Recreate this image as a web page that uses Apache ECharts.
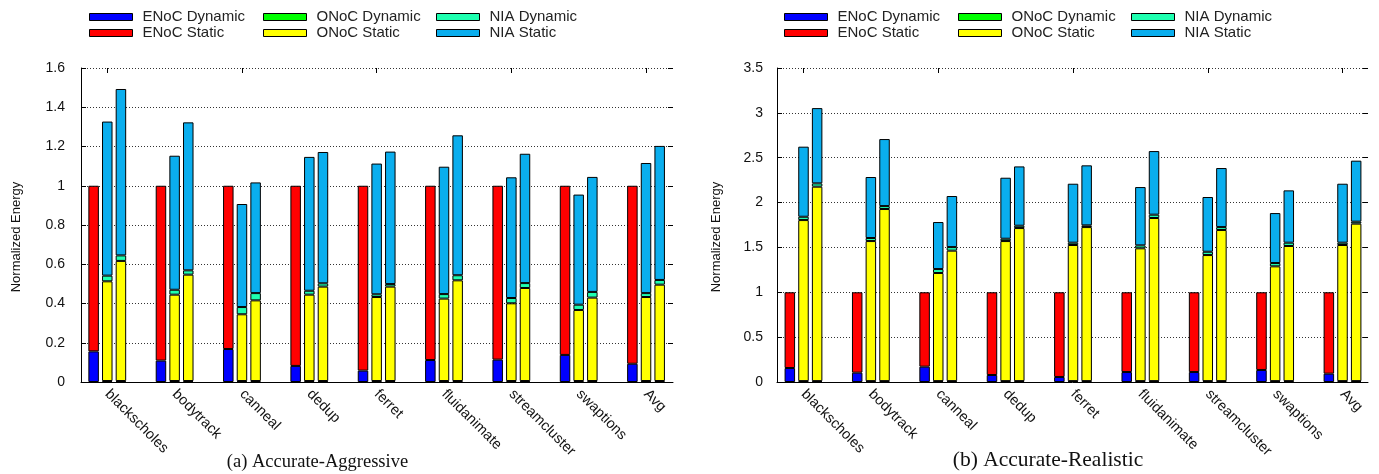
<!DOCTYPE html>
<html>
<head>
<meta charset="utf-8">
<script src="https://cdn.jsdelivr.net/npm/echarts@6/dist/echarts.min.js"></script>
<style>html,body{margin:0;padding:0;background:#fff;}#c{width:1379px;height:474px;}</style>
</head>
<body>
<div id="c"></div>
<script>
const categories = ['blackscholes','bodytrack','canneal','dedup','ferret','fluidanimate','streamcluster','swaptions','Avg'];
const seriesNames = ['ENoC Dynamic','ENoC Static','ONoC Dynamic','ONoC Static','NIA Dynamic','NIA Static'];
const yTicksA = [0, 1.6, 0.2];
const yTicksB = [0, 3.5, 0.5];

// (a) Accurate-Aggressive
const aggEnocDyn     = [0.156,0.109,0.168,0.082,0.058,0.112,0.114,0.138,0.093];
const aggEnocStatic  = [0.844,0.891,0.832,0.918,0.942,0.888,0.886,0.862,0.907];
const aggOnoc1Dyn    = [0.005,0.005,0.005,0.005,0.005,0.005,0.005,0.005,0.005];
const aggOnoc1Static = [0.508,0.440,0.340,0.440,0.428,0.420,0.396,0.362,0.428];
const aggNia1Dyn     = [0.029,0.025,0.037,0.020,0.014,0.023,0.027,0.027,0.020];
const aggNia1Static  = [0.785,0.683,0.525,0.682,0.666,0.649,0.615,0.561,0.663];
const aggOnoc2Dyn    = [0.005,0.005,0.005,0.005,0.005,0.005,0.005,0.005,0.005];
const aggOnoc2Static = [0.612,0.542,0.411,0.481,0.481,0.513,0.474,0.425,0.491];
const aggNia2Dyn     = [0.028,0.022,0.037,0.017,0.013,0.026,0.025,0.029,0.024];
const aggNia2Static  = [0.848,0.754,0.564,0.669,0.675,0.713,0.659,0.586,0.683];

// (b) Accurate-Realistic
const realEnocDyn     = [0.156,0.104,0.171,0.078,0.056,0.111,0.111,0.134,0.093];
const realEnocStatic  = [0.844,0.896,0.829,0.922,0.944,0.889,0.889,0.866,0.907];
const realOnoc1Dyn    = [0.010,0.010,0.010,0.010,0.010,0.010,0.010,0.010,0.010];
const realOnoc1Static = [1.795,1.561,1.205,1.561,1.517,1.480,1.405,1.279,1.517];
const realNia1Dyn     = [0.037,0.034,0.044,0.026,0.026,0.033,0.037,0.037,0.026];
const realNia1Static  = [0.781,0.680,0.524,0.680,0.657,0.650,0.610,0.557,0.657];
const realOnoc2Dyn    = [0.010,0.010,0.010,0.010,0.010,0.010,0.010,0.010,0.010];
const realOnoc2Static = [2.167,1.918,1.454,1.706,1.717,1.818,1.684,1.506,1.755];
const realNia2Dyn     = [0.037,0.033,0.040,0.026,0.019,0.037,0.033,0.037,0.022];
const realNia2Static  = [0.839,0.747,0.569,0.661,0.669,0.709,0.658,0.583,0.680];

const colors = {
  'ENoC Dynamic':'#0000ff','ENoC Static':'#ff0000',
  'ONoC Dynamic':'#00ff00','ONoC Static':'#ffff00',
  'NIA Dynamic':'#1effb0','NIA Static':'#0aaeee'
};
const SANS = 'Liberation Sans, Arial, sans-serif';
const SERIF = 'Liberation Serif, Times New Roman, serif';

function bar(name, data, stack, xi, yi) {
  return {
    type:'bar', name:name, data:data, stack:stack,
    xAxisIndex:xi, yAxisIndex:yi, barWidth:10.5, barGap:'30%',
    itemStyle:{color:colors[name], borderColor:'#000', borderWidth:1},
    emphasis:{disabled:true}, animation:false
  };
}

const panels = [
  {frameLeft:81, frameWidth:592, barLeft:73.6, barWidth:606.1, ticks:yTicksA, labelMargin:16, nameX:16,
   sets:[[aggEnocDyn,aggEnocStatic],[aggOnoc1Dyn,aggOnoc1Static,aggNia1Dyn,aggNia1Static],[aggOnoc2Dyn,aggOnoc2Static,aggNia2Dyn,aggNia2Static]],
   legendLefts:[89,263,436]},
  {frameLeft:777, frameWidth:591, barLeft:769.8, barWidth:606.4, ticks:yTicksB, labelMargin:14, nameX:716,
   sets:[[realEnocDyn,realEnocStatic],[realOnoc1Dyn,realOnoc1Static,realNia1Dyn,realNia1Static],[realOnoc2Dyn,realOnoc2Static,realNia2Dyn,realNia2Static]],
   legendLefts:[784,958,1131]}
];

const grid=[], xAxis=[], yAxis=[], series=[], legend=[], graphic=[];
const TOP=68, H=314;
const gridLine = {show:true, lineStyle:{color:'#333', type:[1,2], width:1}};
panels.forEach((p, pi) => {
  const g0 = grid.length;
  grid.push({left:p.frameLeft, top:TOP, width:p.frameWidth, height:H});
  grid.push({left:p.barLeft, top:TOP, width:p.barWidth, height:H});
  const x0 = xAxis.length;
  xAxis.push({type:'value', gridIndex:g0, min:0, max:1, position:'bottom',
    axisLine:{show:true, onZero:false, lineStyle:{color:'#000', width:1}},
    axisTick:{show:false}, axisLabel:{show:false}, splitLine:{show:false}});
  xAxis.push({type:'category', gridIndex:g0+1, data:categories, position:'bottom',
    axisLine:{show:false}, axisTick:{show:false},
    axisLabel:{interval:0, rotate:-45, margin:10, fontFamily:SANS, fontSize:14.5, color:'#111'}});
  xAxis.push({type:'category', gridIndex:g0+1, data:categories, position:'top',
    axisLine:{show:false}, axisTick:{show:true, inside:true, alignWithLabel:true, length:5, lineStyle:{color:'#000'}},
    axisLabel:{show:false}});
  const y0 = yAxis.length;
  const [mn, mx, iv] = p.ticks;
  yAxis.push({type:'value', gridIndex:g0, min:mn, max:mx, interval:iv, position:'left',
    axisLine:{show:true, lineStyle:{color:'#000', width:1}},
    axisTick:{show:true, inside:true, length:5, lineStyle:{color:'#000'}},
    axisLabel:{margin:p.labelMargin, fontFamily:SANS, fontSize:14, color:'#111'},
    splitLine:gridLine});
  yAxis.push({type:'value', gridIndex:g0, min:mn, max:mx, interval:iv, position:'right',
    axisLine:{show:false}, axisTick:{show:true, inside:true, length:5, lineStyle:{color:'#000'}},
    axisLabel:{show:false}, splitLine:{show:false}});
  yAxis.push({type:'value', gridIndex:g0+1, min:mn, max:mx, interval:iv, show:false});
  const xi = x0+1, yi = y0+2;
  const [s1, s2, s3] = p.sets;
  series.push(bar('ENoC Dynamic', s1[0], 'p'+pi+'e', xi, yi));
  series.push(bar('ENoC Static', s1[1], 'p'+pi+'e', xi, yi));
  [s2, s3].forEach((s, k) => {
    const st = 'p'+pi+'o'+k;
    series.push(bar('ONoC Dynamic', s[0], st, xi, yi));
    series.push(bar('ONoC Static', s[1], st, xi, yi));
    series.push(bar('NIA Dynamic', s[2], st, xi, yi));
    series.push(bar('NIA Static', s[3], st, xi, yi));
  });
  const cols = [['ENoC Dynamic','ENoC Static'],['ONoC Dynamic','ONoC Static'],['NIA Dynamic','NIA Static']];
  cols.forEach((c, ci) => {
    legend.push({orient:'vertical', left:p.legendLefts[ci], top:9, padding:0, data:c,
      icon:'rect', itemWidth:43, itemHeight:7, itemGap:0, selectedMode:false,
      itemStyle:{borderColor:'#000', borderWidth:1},
      textStyle:{fontFamily:SANS, fontSize:15, color:'#222', lineHeight:16, padding:[0,0,0,5]}});
  });
  graphic.push({type:'text', x:p.nameX, y:237, rotation:Math.PI/2,
    style:{text:'Normalized Energy', font:'13px '+SANS, fill:'#111', textAlign:'center', textVerticalAlign:'middle'}});
});
graphic.push({type:'text', x:317.5, y:462, style:{text:'(a) Accurate-Aggressive', font:'18.5px '+SERIF, fill:'#111', textAlign:'center', textVerticalAlign:'middle'}});
graphic.push({type:'text', x:1048, y:460, style:{text:'(b) Accurate-Realistic', font:'21.5px '+SERIF, fill:'#111', textAlign:'center', textVerticalAlign:'middle'}});

const chart = echarts.init(document.getElementById('c'), null, {renderer:'canvas'});
chart.setOption({
  animation:false,
  backgroundColor:'#fff',
  grid:grid, xAxis:xAxis, yAxis:yAxis, series:series, legend:legend, graphic:graphic
});
</script>
</body>
</html>
